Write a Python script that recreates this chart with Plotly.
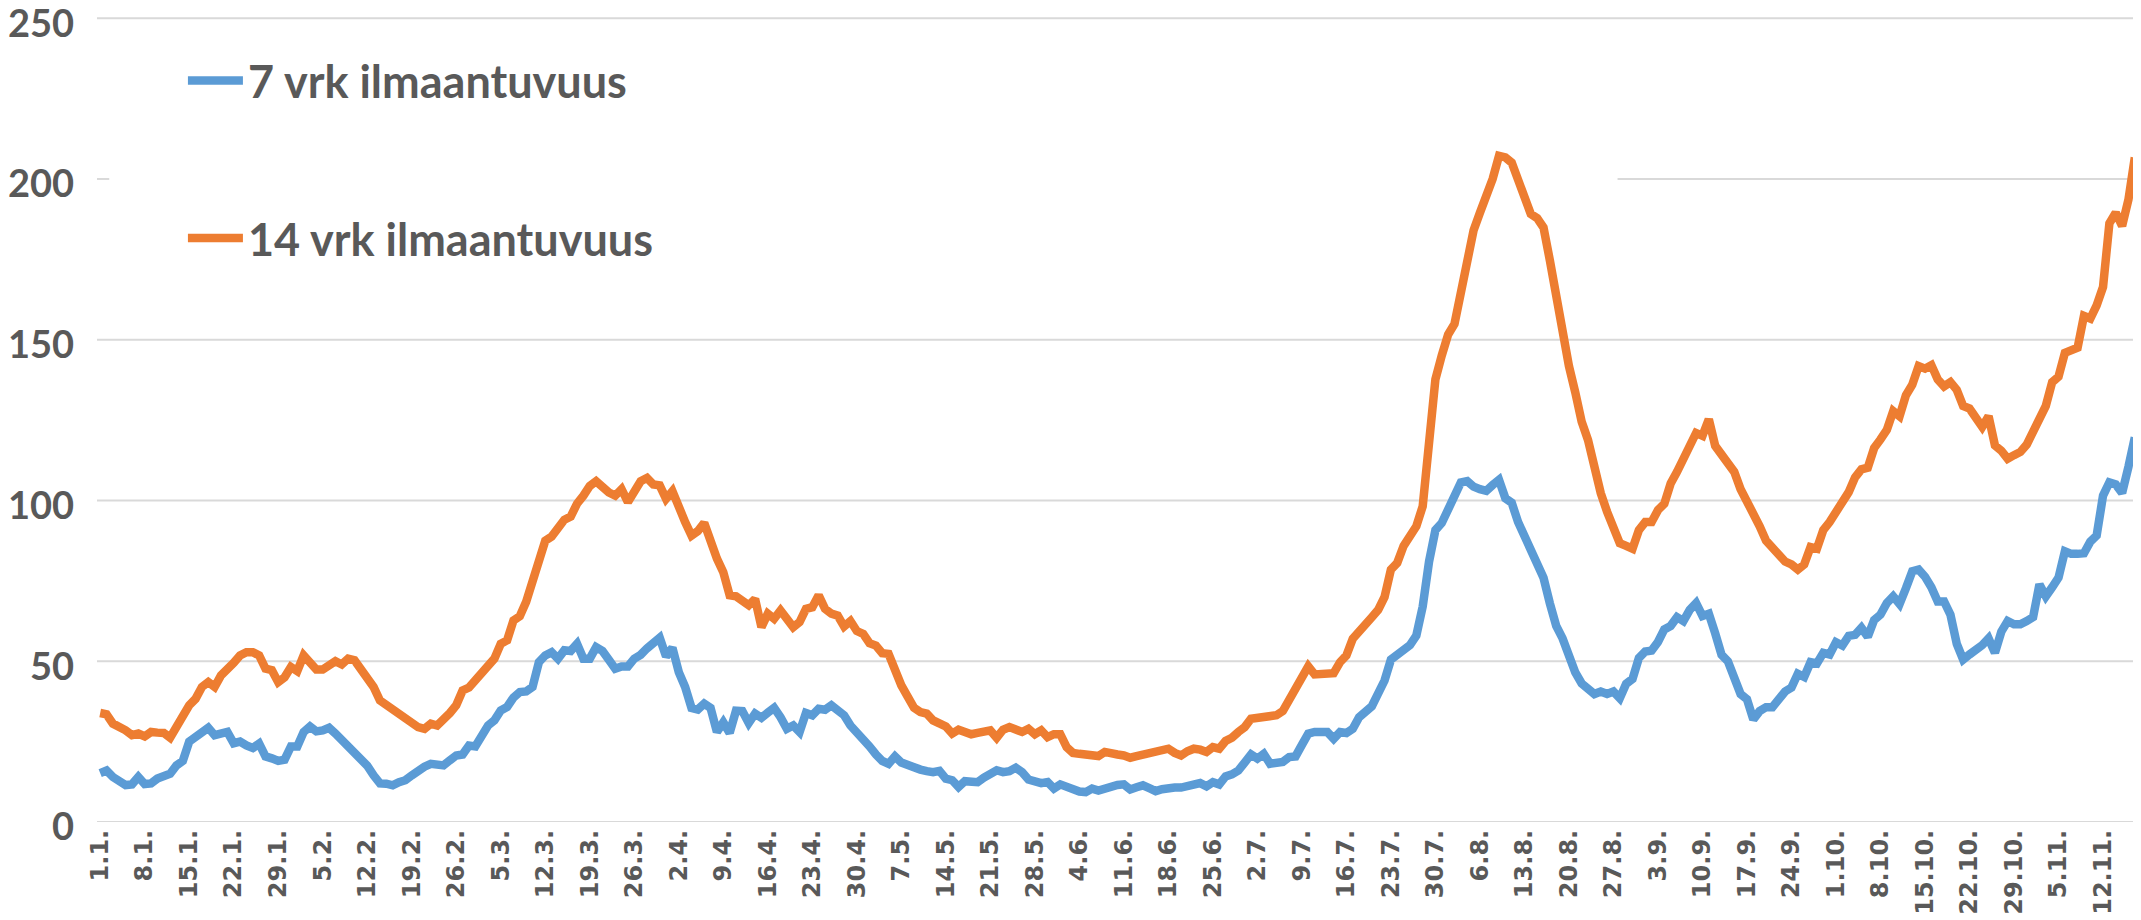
import datetime as dt
import plotly.graph_objects as go

# 7-day incidence (blue), daily values 1.1.2021 - 17.11.2021
INC_7 = [
    15.2, 16, 14, 12.7, 11.5, 11.7, 14, 11.8, 12, 13.5,
    14.2, 15, 17.6, 19, 25, 26.5, 28, 29.3, 27, 27.8,
    28, 24.5, 25, 23.8, 23, 24.4, 20.4, 19.8, 19, 19.4,
    23.5, 23.5, 28, 29.7, 28.2, 28.5, 29.3, 27.5, 25.6, 23.5,
    21.2, 19.7, 17.5, 14.5, 12, 11.9, 11.4, 12.4, 13, 14.5,
    16, 17.2, 18.1, 18, 17.6, 19.2, 20.7, 21, 23.8, 23.5,
    27, 30, 31.6, 34.7, 35.8, 38.7, 40.4, 40.6, 42, 49.7,
    51.8, 52.8, 50.8, 53.4, 53.2, 55.4, 50.8, 50.8, 54.4, 53.2,
    50.5, 47.7, 48.4, 48.4, 50.8, 52, 54, 55.4, 57.3, 51.5,
    54.2, 46.6, 42, 35.5, 35, 36.8, 35.5, 28, 31, 27.7,
    34.6, 34.5, 30.8, 33.7, 32.4, 34, 35.5, 32.6, 29, 30,
    28, 33.9, 33.2, 35.2, 34.9, 36.3, 34.5, 33.2, 30, 28,
    25.5, 23.5, 21, 19, 18.1, 20.4, 18.5, 17.6, 16.8, 16.3,
    15.8, 15.5, 15.9, 13.5, 13, 10.9, 12.7, 12.4, 12.4, 13.8,
    15, 16.1, 15.5, 15.8, 16.9, 15.5, 13.2, 12.4, 12.1, 12.4,
    10.4, 11.7, 11, 9.8, 9.5, 9.3, 10.4, 9.8, 10.5, 11.4,
    11.5, 11.7, 10.1, 10.8, 11.4, 10.5, 9.6, 10.2, 10.7, 10.7,
    10.7, 11.3, 12.1, 12.1, 11.1, 12.4, 11.7, 14.2, 14.8, 16,
    18.5, 21, 19.7, 21.2, 18.1, 18.7, 18.7, 20.2, 20.4, 24,
    27.5, 28, 28, 28, 25.9, 28, 27.7, 29, 32.6, 34.5,
    36, 40, 44, 50.5, 52, 53.8, 55, 58, 67, 81,
    90.8, 93, 97, 100.7, 105.6, 106, 104.3, 103.5, 103, 104.8,
    106.4, 100.7, 99.3, 93.3, 89, 85, 80.5, 76, 68, 61,
    57.1, 51.3, 46.5, 43.1, 41.4, 39.8, 40.6, 39.8, 40.6, 38.5,
    43, 44.5, 51, 53, 53.3, 56, 59.9, 61, 63.7, 62.5,
    66, 68.1, 64.1, 64.8, 58.7, 52, 50, 45.6, 39.8, 38.2,
    31.9, 34.5, 35.7, 35.7, 38.5, 40.6, 41.8, 46.1, 45.1, 49.7,
    49.3, 52.6, 52.1, 55.9, 54.9, 57.9, 58.2, 60.4, 57.6, 62.8,
    64.5, 68.1, 70.2, 67.8, 72.7, 78, 78.5, 76.3, 73, 68.6,
    68.6, 64.5, 55.4, 50.5, 52.1, 53.3, 55, 57.1, 52.6, 59.2,
    62.5, 61.5, 61.5, 62.5, 63.7, 73.9, 70.2, 73, 76, 84.2,
    83.4, 83.4, 83.6, 87.2, 89.1, 101.5, 105.6, 105, 102.3, 110.5,
    119.6,
]

# 14-day incidence (orange)
INC_14 = [
    33.9, 33.5, 30.6, 29.7, 28.5, 27, 27.5, 26.6, 28, 27.8,
    27.7, 26.2, 29.3, 33.5, 36.3, 38.3, 42, 43.5, 42, 45.6,
    47.2, 49.5, 51.8, 52.8, 52.8, 51.8, 47.7, 47.2, 43.5, 45,
    48.2, 46.9, 51.8, 49.7, 47.4, 47.4, 48.5, 50, 49, 50.8,
    50.3, 47.7, 45.3, 42, 37.8, 36.5, 34.9, 33.4, 32.6, 30.8,
    29.5, 29, 30.6, 30, 31.6, 33.9, 36.3, 40.9, 41.8, 44,
    45.6, 48.2, 50.8, 55.4, 56.5, 62.7, 64, 68.5, 75, 83,
    87.5, 88.8, 92, 94, 95, 99, 101.5, 104.5, 106, 104,
    102.5, 101.5, 103.5, 99.5, 103, 106, 107, 105, 104.7, 100.5,
    102.9, 97.4, 93.3, 89.1, 90.5, 93, 86.5, 81.9, 77.7, 70.5,
    70.2, 68.9, 67.4, 69.4, 60.6, 64.8, 63.2, 65.8, 62.7, 60.6,
    62.2, 66.3, 66.8, 70.5, 66.3, 64.8, 64.2, 60.8, 62.5, 59.4,
    58.5, 55.6, 54.9, 52.5, 52.3, 47.2, 42.5, 39, 35.5, 34.2,
    33.7, 31.6, 30.5, 29.7, 27.5, 28.7, 28, 27.3, 27.7, 28.3,
    28.5, 26.2, 28.7, 29.5, 28.5, 28, 29, 27.3, 28.5, 26.4,
    27.3, 27.3, 23.3, 21.5, 21.2, 21, 20.2, 20.5, 21.8, 21.2,
    21, 20.7, 20, 20.5, 21, 21.2, 21.5, 22, 22.8, 21.5,
    20.7, 22, 22.8, 22.5, 21.8, 23.3, 22.8, 25.2, 26.2, 28,
    29.5, 32.1, 32.4, 32.6, 32.8, 33.2, 34.5, 37.8, 41.5, 44,
    48.4, 45.9, 46.2, 46.3, 46.3, 49.7, 51.8, 57, 59, 61,
    63.7, 66, 70, 78.5, 80.6, 85.9, 89.1, 92, 98.2, 118.8,
    137.7, 145.1, 151.6, 154.9, 165, 175, 184, 189.5, 194, 200,
    207.2, 206.7, 205.1, 199.3, 194.1, 189.1, 187.8, 184.9, 174.7, 163.2,
    151.6, 141.8, 133.6, 124.5, 118.8, 109.7, 102.3, 96.5, 91.6, 86.7,
    85.9, 85, 90.8, 93.3, 93.3, 97, 99, 105.3, 108.9, 113,
    118, 121, 120.1, 125.3, 117, 114.6, 112.2, 108.9, 103.5, 100,
    96.5, 92, 87.5, 85, 82.5, 81, 80.1, 78.5, 80.1, 85.5,
    85, 90.8, 93.3, 96.5, 99.8, 102.6, 107.2, 109.7, 110.2, 116.3,
    119, 122, 127.8, 126.2, 132.7, 136, 141.8, 141, 142.1, 137.7,
    135.5, 136.8, 134.4, 129.4, 128.6, 126.2, 122.9, 126.2, 117.1, 115.5,
    113, 114.1, 115.1, 117.4, 121.2, 126.2, 129.4, 136.8, 138.5, 145.9,
    147, 147.5, 157.4, 156.6, 160.7, 166.4, 186.2, 189.5, 185.4, 193.6,
    206.7,
]

TICK_LABELS = [
    "1.1.", "8.1.", "15.1.", "22.1.", "29.1.", "5.2.", "12.2.", "19.2.", "26.2.",
    "5.3.", "12.3.", "19.3.", "26.3.", "2.4.", "9.4.", "16.4.", "23.4.", "30.4.",
    "7.5.", "14.5.", "21.5.", "28.5.", "4.6.", "11.6.", "18.6.", "25.6.",
    "2.7.", "9.7.", "16.7.", "23.7.", "30.7.", "6.8.", "13.8.", "20.8.", "27.8.",
    "3.9.", "10.9.", "17.9.", "24.9.", "1.10.", "8.10.", "15.10.", "22.10.",
    "29.10.", "5.11.", "12.11.",
]

Y_TICKS = [0, 50, 100, 150, 200, 250]
SERIES_NAMES = ["7 vrk ilmaantuvuus", "14 vrk ilmaantuvuus"]

assert len(INC_7) == len(INC_14)
start = dt.date(2021, 1, 1)
DATES = []
for k in range(len(INC_7)):
    d = start + dt.timedelta(days=k)
    DATES.append(f"{d.day}.{d.month}.")

GRAY = "#595959"
GRID = "#D9D9D9"

fig = go.Figure()
fig.add_trace(go.Scatter(
    x=DATES, y=INC_7, mode="lines", name=SERIES_NAMES[0], legendgroup="a",
    line=dict(color="#5B9BD5", width=8.5),
))
fig.add_trace(go.Scatter(
    x=DATES, y=INC_14, mode="lines", name=SERIES_NAMES[1], legendgroup="b",
    line=dict(color="#ED7D31", width=8.5),
))

# horizontal gridlines (the legend box of the original hides part of one)
shapes = []
for v in Y_TICKS:
    if v == 200:
        segs = [(0.0, 0.006), (0.745, 1.0)]
    else:
        segs = [(0.0, 1.0)]
    for a, b in segs:
        shapes.append(dict(
            type="line", xref="paper", yref="y", x0=a, x1=b, y0=v, y1=v,
            line=dict(color=GRID, width=2), layer="below",
        ))

fig.update_layout(
    width=2133, height=912,
    margin=dict(l=89, r=3, t=7, b=98, autoexpand=False),
    paper_bgcolor="white", plot_bgcolor="white",
    showlegend=True,
    legend=dict(
        x=0.0421, y=0.963, xanchor="left", yanchor="top",
        bgcolor="rgba(255,255,255,0)", borderwidth=0,
        traceorder="grouped", tracegroupgap=96, itemwidth=55,
        font=dict(family="Lato", size=45, color=GRAY, weight="bold"),
    ),
    shapes=shapes,
)

fig.update_xaxes(
    type="category", range=[-0.5, len(DATES) - 0.5],
    tickmode="array", tickvals=TICK_LABELS, ticktext=TICK_LABELS,
    tickangle=-90, showgrid=False, showline=False, zeroline=False, ticks="",
    tickfont=dict(family="DejaVu Sans", size=24, color=GRAY, weight="bold"),
    ticklabelstandoff=2, ticklabeloverflow="allow", automargin=False,
)
fig.update_yaxes(
    range=[0, 251], tickmode="array", tickvals=Y_TICKS,
    showgrid=False, zeroline=False, showline=False, ticks="",
    tickfont=dict(family="Lato", size=38, color=GRAY, weight="bold"),
    ticklabelstandoff=22, ticklabelshift=5,
    ticklabeloverflow="allow", automargin=False,
)

fig.write_html("out.html")
